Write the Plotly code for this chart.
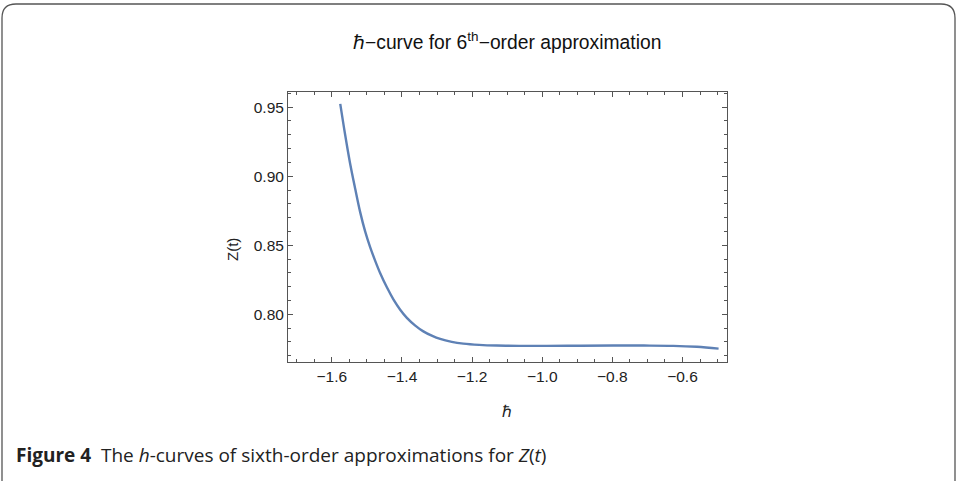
import plotly.graph_objects as go

hbar = [-1.576, -1.562, -1.548, -1.533, -1.519, -1.505, -1.491, -1.476, -1.462, -1.443,
        -1.424, -1.405, -1.386, -1.362, -1.339, -1.315, -1.291, -1.258, -1.225, -1.18,
        -1.130, -1.06, -0.987, -0.89, -0.797, -0.71, -0.626, -0.559, -0.497]
z_t = [0.9524, 0.9300, 0.9094, 0.8905, 0.8738, 0.8600, 0.8488, 0.8385, 0.8297, 0.8195,
       0.8106, 0.8033, 0.7974, 0.7918, 0.7876, 0.7845, 0.7821, 0.7800, 0.7787, 0.7778,
       0.7773, 0.7771, 0.7771, 0.7772, 0.7773, 0.7773, 0.7771, 0.7764, 0.7751]

x_ticks = [-1.6, -1.4, -1.2, -1.0, -0.8, -0.6]
y_ticks = [0.80, 0.85, 0.90, 0.95]

W, H = 958, 481
L, T = 288, 92
R, B = W - 727, H - 362
pw, ph = W - L - R, H - T - B


def px(x):
    return (x - L) / pw


def py(y):
    return 1 - (y - T) / ph


fig = go.Figure()
fig.add_trace(go.Scatter(x=hbar, y=z_t, mode="lines",
                         line=dict(color="#5E81B5", width=2.4, shape="spline", smoothing=1.0),
                         showlegend=False, hoverinfo="skip"))

axis_common = dict(showgrid=False, zeroline=False, showline=True, linecolor="#555", linewidth=1,
                   mirror="ticks", ticks="inside", ticklen=5, tickcolor="#555", tickwidth=1,
                   tickfont=dict(family="Liberation Sans, Arial", size=15.5, color="#222"))

fig.update_xaxes(range=[-1.725, -0.473], tickvals=x_ticks, tickformat=".1f",
                 minor=dict(dtick=0.05, ticks="inside", ticklen=3, tickcolor="#555"),
                 **axis_common)
fig.update_yaxes(range=[0.7654, 0.961], tickvals=y_ticks, tickformat=".2f",
                 minor=dict(dtick=0.01, ticks="inside", ticklen=3, tickcolor="#555"),
                 **axis_common)

# rounded frame around the figure
x0, x1, y0, y1, rr = px(2), px(955), py(4), py(490), 14
rx, ry = rr / pw, rr / ph
path = (f"M {x0},{y0 - ry} Q {x0},{y0} {x0 + rx},{y0} L {x1 - rx},{y0} Q {x1},{y0} {x1},{y0 - ry} "
        f"L {x1},{y1} M {x0},{y0 - ry} L {x0},{y1}")
fig.add_shape(type="path", path=path, xref="paper", yref="paper", line=dict(color="#555", width=1.3))

fig.add_annotation(text="ℏ−curve for 6<sup>th</sup>−order approximation", xref="paper", yref="paper",
                   x=px(507), y=py(41), xanchor="center", yanchor="middle", showarrow=False,
                   font=dict(family="Liberation Sans, Arial", size=19.3, color="#111"))
fig.add_annotation(text="ℏ", xref="paper", yref="paper", x=px(507), y=py(411), xanchor="center",
                   yanchor="middle", showarrow=False, font=dict(family="Liberation Sans, Arial", size=16, color="#222"))
fig.add_annotation(text="Z(t)", xref="paper", yref="paper", x=px(232), y=py(250), xanchor="center",
                   yanchor="middle", textangle=-90, showarrow=False,
                   font=dict(family="Liberation Sans, Arial", size=15, color="#222"))
fig.add_annotation(text="<b>Figure 4</b>  The <i>h</i>-curves of sixth-order approximations for <i>Z</i>(<i>t</i>)",
                   xref="paper", yref="paper", x=px(14), y=py(455), xanchor="left", yanchor="middle",
                   showarrow=False, font=dict(family="Open Sans", size=19, color="#222"))

fig.update_layout(width=W, height=H, margin=dict(l=L, r=R, t=T, b=B), plot_bgcolor="white",
                  paper_bgcolor="white")

# drop the default 8px body margin so the figure fills the window
fig.write_html("out.html", config={"displayModeBar": False},
               post_script="document.body.style.margin='0';")
